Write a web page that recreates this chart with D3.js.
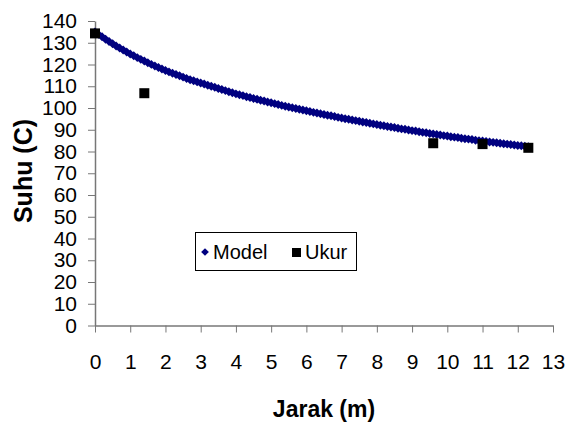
<!DOCTYPE html>
<html>
<head>
<meta charset="utf-8">
<script src="https://cdn.jsdelivr.net/npm/d3@7"></script>
<style>
  body { margin: 0; background: #fff; }
  svg { font-family: "Liberation Sans", Arial, sans-serif; }
  .tick text { font-size: 21px; fill: #000; }
  .axis path, .axis line { stroke: #777; }
</style>
</head>
<body>
<svg width="568" height="425"></svg>
<script>
var svg = d3.select("svg");

// Model: temperature every 0.1 m from 0 to 12.3 m
var modelStep = 0.1;
var modelSuhu = [
    135.0, 133.85, 132.73, 131.64, 130.58, 129.55, 128.55, 127.58, 126.64, 125.73,
    124.85, 124.0, 123.17, 122.36, 121.57, 120.8, 120.05, 119.32, 118.61, 117.92,
    117.25, 116.6, 116.0, 115.4, 114.8, 114.2, 113.6, 113.0, 112.5, 112.0,
    111.5, 111.0, 110.5, 110.0, 109.5, 109.0, 108.5, 108.0, 107.5, 107.0,
    106.5, 106.1, 105.7, 105.2, 104.8, 104.4, 104.0, 103.6, 103.2, 102.8,
    102.4, 102.0, 101.6, 101.2, 100.8, 100.5, 100.1, 99.8, 99.4, 99.1,
    98.7, 98.4, 98.0, 97.7, 97.4, 97.0, 96.7, 96.4, 96.1, 95.7,
    95.4, 95.1, 94.8, 94.5, 94.2, 93.9, 93.6, 93.3, 93.0, 92.7,
    92.4, 92.1, 91.8, 91.5, 91.3, 91.0, 90.7, 90.4, 90.2, 89.9,
    89.6, 89.4, 89.1, 88.8, 88.6, 88.3, 88.1, 87.8, 87.6, 87.3,
    87.1, 86.8, 86.6, 86.4, 86.1, 85.9, 85.7, 85.5, 85.2, 85.0,
    84.8, 84.6, 84.4, 84.2, 84.0, 83.8, 83.6, 83.4, 83.2, 83.0,
    82.8, 82.6, 82.4, 82.2
];

// Ukur: measured points
var ukurJarak = [0, 1.4, 9.6, 11.0, 12.3];
var ukurSuhu = [134.3, 106.8, 83.8, 83.4, 81.7];

var xTicks = d3.range(0, 14, 1);
var yTicks = d3.range(0, 150, 10);

var x = d3.scaleLinear().domain([0, 13]).range([95, 553]);
var y = d3.scaleLinear().domain([0, 140]).range([325.5, 21]);

// Axes
var xAxis = svg.append("g")
    .attr("class", "axis")
    .attr("transform", "translate(0,325.5)")
    .call(d3.axisBottom(x).tickValues(xTicks).tickSize(7).tickPadding(22).tickSizeOuter(0));

var yAxis = svg.append("g")
    .attr("class", "axis")
    .attr("transform", "translate(95,0)")
    .call(d3.axisLeft(y).tickValues(yTicks).tickSize(7).tickPadding(11).tickSizeOuter(0));

svg.selectAll(".axis .domain").attr("stroke", "#777").attr("stroke-width", 1.5);

// Model series
var diamond = d3.symbol().type(d3.symbolSquare).size(40);
svg.append("g").selectAll("path")
    .data(modelSuhu)
    .enter()
    .append("path")
    .attr("d", diamond)
    .attr("transform", function(d, i) { return "translate(" + x(i * modelStep) + "," + y(d) + ") rotate(45)"; })
    .attr("fill", "#000080");

// Ukur series
svg.append("g").selectAll("rect")
    .data(ukurSuhu)
    .enter()
    .append("rect")
    .attr("x", function(d, i) { return x(ukurJarak[i]) - 5; })
    .attr("y", function(d) { return y(d) - 5; })
    .attr("width", 10)
    .attr("height", 10)
    .attr("fill", "#000");

// Titles
svg.append("text")
    .attr("x", 324)
    .attr("y", 417)
    .attr("text-anchor", "middle")
    .style("font-weight", "bold")
    .style("font-size", "23px")
    .text("Jarak (m)");

svg.append("text")
    .attr("transform", "translate(32,171) rotate(-90)")
    .attr("text-anchor", "middle")
    .style("font-weight", "bold")
    .style("font-size", "25px")
    .text("Suhu (C)");

// Legend
var legend = svg.append("g");
legend.append("rect")
    .attr("x", 195.5).attr("y", 232.5)
    .attr("width", 161).attr("height", 38)
    .attr("fill", "#fff").attr("stroke", "#000");
legend.append("path")
    .attr("d", d3.symbol().type(d3.symbolSquare).size(30))
    .attr("transform", "translate(205,252) rotate(45)")
    .attr("fill", "#000080");
legend.append("text")
    .attr("x", 213).attr("y", 259)
    .style("font-size", "20px")
    .text("Model");
legend.append("rect")
    .attr("x", 292).attr("y", 248)
    .attr("width", 9).attr("height", 9)
    .attr("fill", "#000");
legend.append("text")
    .attr("x", 305).attr("y", 259)
    .style("font-size", "20px")
    .text("Ukur");
</script>
</body>
</html>
